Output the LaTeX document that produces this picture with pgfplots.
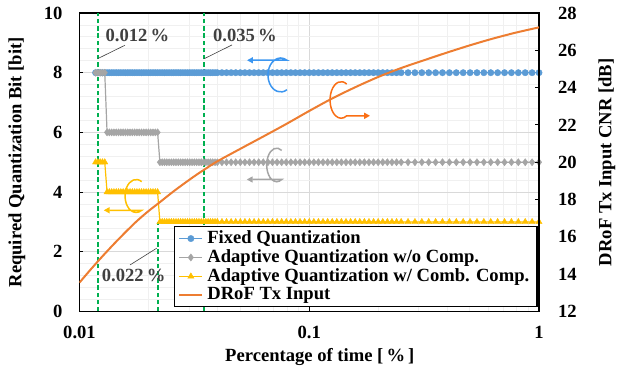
\documentclass[border=0pt]{standalone}
\usepackage{fontspec}
\setmainfont{Liberation Serif}
\usepackage{pgfplots}
\pgfplotsset{compat=1.18}
\usepackage{pgfplotstable}
\usetikzlibrary{arrows.meta}
\definecolor{cBlue}{RGB}{91,155,213}
\definecolor{cGray}{RGB}{165,165,165}
\definecolor{cYel}{RGB}{255,192,0}
\definecolor{cOra}{RGB}{237,125,49}
\definecolor{cGreen}{RGB}{0,176,80}
\definecolor{cTxt}{RGB}{64,64,64}
\definecolor{aBlue}{RGB}{60,150,240}
\definecolor{aOra}{RGB}{250,110,20}
\newcommand\ff{\fontsize{9.3}{11}\selectfont\bfseries}

\pgfplotstableread{
x fixed adapt comp
0.011749 8 8 5
0.012023 8 8 5
0.012303 8 8 5
0.012589 8 8 5
0.012882 8 8 5
0.013183 8 6 4
0.013490 8 6 4
0.013804 8 6 4
0.014125 8 6 4
0.014454 8 6 4
0.014791 8 6 4
0.015136 8 6 4
0.015488 8 6 4
0.015849 8 6 4
0.016218 8 6 4
0.016596 8 6 4
0.016982 8 6 4
0.017378 8 6 4
0.017783 8 6 4
0.018197 8 6 4
0.018621 8 6 4
0.019055 8 6 4
0.019498 8 6 4
0.019953 8 6 4
0.020417 8 6 4
0.020893 8 6 4
0.021380 8 6 4
0.021878 8 6 4
0.022387 8 5 3
0.022909 8 5 3
0.023442 8 5 3
0.023988 8 5 3
0.024547 8 5 3
0.025119 8 5 3
0.025704 8 5 3
0.026303 8 5 3
0.026915 8 5 3
0.027542 8 5 3
0.028184 8 5 3
0.028840 8 5 3
0.029512 8 5 3
0.030200 8 5 3
0.030903 8 5 3
0.031623 8 5 3
0.032359 8 5 3
0.033113 8 5 3
0.033884 8 5 3
0.034674 8 5 3
0.035481 8 5 3
0.036308 8 5 3
0.037154 8 5 3
0.038019 8 5 3
0.038905 8 5 3
0.039811 8 5 3
0.041687 8 5 3
0.043652 8 5 3
0.045709 8 5 3
0.047863 8 5 3
0.050119 8 5 3
0.052481 8 5 3
0.054954 8 5 3
0.057544 8 5 3
0.060256 8 5 3
0.063096 8 5 3
0.066069 8 5 3
0.069183 8 5 3
0.072444 8 5 3
0.075858 8 5 3
0.079433 8 5 3
0.083176 8 5 3
0.087096 8 5 3
0.091201 8 5 3
0.095499 8 5 3
0.100000 8 5 3
0.104710 8 5 3
0.109650 8 5 3
0.114820 8 5 3
0.120230 8 5 3
0.125890 8 5 3
0.131830 8 5 3
0.138040 8 5 3
0.144540 8 5 3
0.151360 8 5 3
0.158490 8 5 3
0.165960 8 5 3
0.173780 8 5 3
0.181970 8 5 3
0.190550 8 5 3
0.199530 8 5 3
0.208930 8 5 3
0.218780 8 5 3
0.229090 8 5 3
0.239880 8 5 3
0.251190 8 5 3
0.269150 8 5 3
0.288400 8 5 3
0.309030 8 5 3
0.331130 8 5 3
0.354810 8 5 3
0.380190 8 5 3
0.407380 8 5 3
0.436520 8 5 3
0.467740 8 5 3
0.501190 8 5 3
0.537030 8 5 3
0.575440 8 5 3
0.616600 8 5 3
0.660690 8 5 3
0.707950 8 5 3
0.758580 8 5 3
0.812830 8 5 3
0.870960 8 5 3
0.933250 8 5 3
1.000000 8 5 3
}\steps

\pgfplotstableread{
x cnr
0.010000 13.55
0.011220 14.27
0.012589 14.96
0.014125 15.62
0.015849 16.25
0.017783 16.85
0.019953 17.38
0.022387 17.86
0.025119 18.35
0.028184 18.81
0.031623 19.25
0.035481 19.66
0.039811 20.05
0.050119 20.72
0.063096 21.38
0.079433 22.05
0.100000 22.75
0.125890 23.42
0.158490 24.02
0.199530 24.57
0.251190 25.05
0.316230 25.47
0.398110 25.88
0.501190 26.27
0.630960 26.63
0.794330 26.95
1.000000 27.23
}\cnrdata

\pgfplotsset{
  sFixed/.style={color=cBlue, line width=0.6pt, mark=*, mark size=1.6pt, mark options={fill=cBlue, draw=cBlue, line width=0.2pt}},
  sAdapt/.style={color=cGray, line width=0.6pt, mark=diamond*, mark size=1.8pt, mark options={fill=cGray, draw=cGray, line width=0.2pt}},
  sComp/.style={color=cYel, line width=0.6pt, mark=triangle*, mark size=1.8pt, mark options={fill=cYel, draw=cYel, line width=0.2pt}},
  sCnr/.style={color=cOra, line width=1pt, no marks},
  gline/.style={color=cGreen, line width=1pt, dash pattern=on 2.2pt off 1.4pt, forget plot},
}

\begin{document}
\begin{tikzpicture}
\useasboundingbox (-39.75pt,-31.25pt) rectangle (271.25pt,155.75pt);
\begin{axis}[
  at={(0pt,0pt)}, anchor=south west,
  scale only axis, width=229.75pt, height=149.25pt,
  xmode=log, xmin=0.01, xmax=1,
  ymin=0, ymax=10,
  xtick={0.01,0.1,1}, xticklabels={0.01,0.1,1},
  ytick={0,2,4,6,8,10},
  minor y tick num=4,
  grid=both,
  major grid style={draw=black!15, line width=0.4pt},
  minor grid style={draw=black!6, line width=0.4pt},
  tick align=inside,
  major tick length=2pt, minor tick length=0pt,
  xtick pos=bottom, ytick pos=left,
  axis line style={line width=0.6pt},
  tick style={black, line width=0.5pt},
  /pgf/number format/assume math mode=true,
  ticklabel style={font=\ff},
  xticklabel style={yshift=-4pt},
  yticklabel style={xshift=-5pt},
  xlabel={Percentage of time [\,\%\,]},
  ylabel={Required Quantization Bit [bit]},
  label style={font=\ff},
  xlabel style={at={(axis description cs:0.523,-0.152)}, anchor=center},
  ylabel style={at={(axis description cs:-0.136,0.5)}, anchor=center},
]
\addplot[sFixed] table[x=x, y=fixed] {\steps};
\addplot[sAdapt] table[x=x, y=adapt] {\steps};
\addplot[sComp] table[x=x, y=comp] {\steps};
\addplot[gline] coordinates {(0.012,0) (0.012,10)};
\addplot[gline] coordinates {(0.035,0) (0.035,10)};
\addplot[gline] coordinates {(0.022,0) (0.022,3)};
\draw[cTxt, line width=0.3pt] (rel axis cs:0.0396,0.847) -- (rel axis cs:0.099,0.892);
\draw[cTxt, line width=0.3pt] (rel axis cs:0.2716,0.847) -- (rel axis cs:0.332,0.893);
\draw[cTxt, line width=0.3pt] (rel axis cs:0.168,0.212) -- (rel axis cs:0.110,0.156);
\node[font=\ff, text=cTxt] at (rel axis cs:0.126,0.926) {0.012\,\%};
\node[font=\ff, text=cTxt] at (rel axis cs:0.360,0.926) {0.035\,\%};
\node[font=\ff, text=cTxt] at (rel axis cs:0.118,0.122) {0.022\,\%};
\end{axis}
% axis indicators (picture coordinates: origin at the plot's lower left corner)
\draw[aBlue, line width=0.75pt, -{Triangle[length=3pt,width=3pt]}] (103.75pt,110.9pt) arc[start angle=-60, end angle=-300, x radius=6.35pt, y radius=8.5pt] -- ++(-20pt,0pt);
\draw[cGray, line width=0.75pt, -{Triangle[length=3pt,width=3pt]}] (101.1pt,80.55pt) arc[start angle=60, end angle=300, x radius=5pt, y radius=8.4pt] -- ++(-17.5pt,0pt);
\draw[cYel, line width=0.75pt, -{Triangle[length=3pt,width=3pt]}] (31.1pt,64.9pt) arc[start angle=60, end angle=300, x radius=5.55pt, y radius=8.25pt] -- ++(-19pt,0pt);
\draw[aOra, line width=0.75pt, -{Triangle[length=3pt,width=3pt]}] (133.6pt,113.7pt) arc[start angle=60, end angle=300, x radius=5.55pt, y radius=9.15pt] -- ++(11.7pt,0pt);
\begin{axis}[
  at={(0pt,0pt)}, anchor=south west,
  scale only axis, width=229.75pt, height=149.25pt,
  xmode=log, xmin=0.01, xmax=1,
  ymin=12, ymax=28, ytick={12,14,...,28},
  axis y line*=right, axis x line=none,
  y axis line style={-},
  tick align=inside, major tick length=2pt, minor tick length=0pt,
  axis line style={line width=0.6pt},
  tick style={black, line width=0.5pt},
  /pgf/number format/assume math mode=true,
  ticklabel style={font=\ff},
  yticklabel style={xshift=6pt},
  ylabel={DRoF Tx Input CNR [dB]},
  ylabel style={font=\ff, at={(axis description cs:1.148,0.5)}, anchor=center},
  legend cell align=left,
  legend style={at={(0.998,0.014)}, anchor=south east, draw=black, line width=0.8pt, fill=white, font=\ff, inner xsep=2pt, inner ysep=0pt, row sep=-2.5pt},
  legend image code/.code={\draw[mark repeat=2,mark phase=2] plot coordinates {(0pt,0pt) (5.75pt,0pt) (11.5pt,0pt)};},
]
\addlegendimage{sFixed}
\addlegendentry{Fixed Quantization}
\addlegendimage{sAdapt}
\addlegendentry{Adaptive Quantization w/o Comp.}
\addlegendimage{sComp}
\addlegendentry{Adaptive Quantization w/ Comb. Comp.}
\addplot[sCnr, smooth] table[x=x, y=cnr] {\cnrdata};
\addlegendentry{DRoF Tx Input}
\end{axis}
\end{tikzpicture}
\end{document}
